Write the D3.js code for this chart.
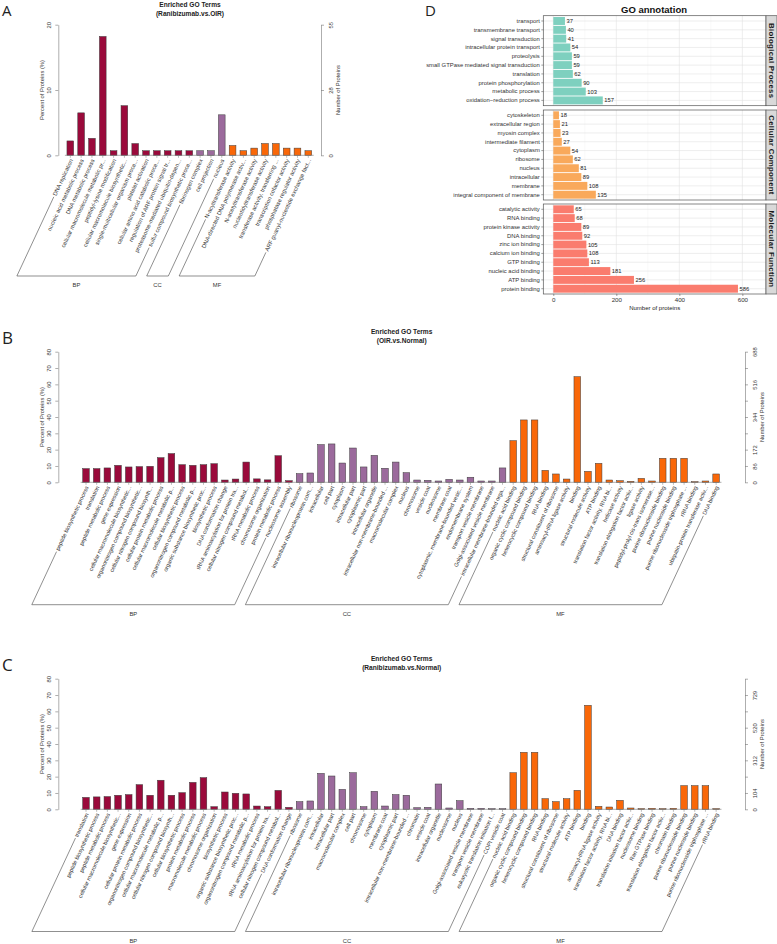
<!DOCTYPE html>
<html>
<head>
<meta charset="utf-8">
<script src="https://cdn.jsdelivr.net/npm/d3@7"></script>
<style>
body { margin: 0; background: #fff; }
svg text { font-family: "Liberation Sans", Arial, sans-serif; }
</style>
</head>
<body>
<svg id="fig" width="777" height="944"></svg>
<script>

// ---- Panel A : Ranibizumab.vs.OIR ----
var aBP = ["DNA replication", "nucleic acid metabolic process", "DNA metabolic process",
  "cellular macromolecule metabolic pr...", "peptidyl-lysine modification",
  "cellular macromolecule biosynthetic...", "single-multicellular organism proce...",
  "platelet activation", "cellular amino acid catabolic proce...",
  "regulation of ARF protein signal tr...", "proteasome-mediated ubiquitin-depen...",
  "sulfur compound biosynthetic proce..."];
var aCC = ["fibrinogen complex", "cell projection", "nucleus"];
var aMF = ["N-acyltransferase activity", "DNA-directed DNA polymerase activ...",
  "N-acetyltransferase activity", "nucleotidyltransferase activity",
  "transferase activity, transferring ...", "transcription cofactor activity",
  "phosphatase regulator activity", "ARF guanyl-nucleotide exchange fact..."];
var aBPVal = [2.2, 6.5, 2.6, 18.2, 0.7, 7.6, 1.8, 0.7, 0.7, 0.7, 0.7, 0.7];
var aCCVal = [0.7, 0.7, 6.2];
var aMFVal = [1.5, 0.7, 1.1, 1.8, 1.8, 1.1, 1.1, 0.7];
var aLeftTicks = [0, 10, 20];
var aRightTicks = ["0", "28", "55"];

// ---- Panel B : OIR.vs.Normal ----
var bBP = ["peptide biosynthetic process", "translation", "peptide metabolic process",
  "gene expression", "cellular macromolecule biosynthetic...",
  "organonitrogen compound biosynthetic...", "cellular nitrogen compound biosynth...",
  "cellular protein metabolic process", "cellular macromolecule metabolic p...",
  "cellular biosynthetic process", "organonitrogen compound metabolic p...",
  "organic substance biosynthetic proc...", "biosynthetic process",
  "DNA conformation change", "tRNA aminoacylation for protein tra...",
  "cellular nitrogen compound metabol...", "tRNA metabolic process",
  "chromosome organization", "protein metabolic process", "nucleosome assembly"];
var bCC = ["ribosome", "intracellular ribonucleoprotein com...", "intracellular", "cell part",
  "cytoplasm", "intracellular part", "cytoplasmic part", "intracellular organelle",
  "intracellular non-membrane-bounded ...", "macromolecular complex", "nucleus",
  "chromosome", "vesicle coat", "nucleosome", "membrane coat",
  "cytoplasmic, membrane-bounded vesic...", "endomembrane system",
  "transport vesicle membrane", "Golgi-associated vesicle membrane",
  "intracellular membrane-bounded orga..."];
var bMF = ["nucleic acid binding", "organic cyclic compound binding",
  "heterocyclic compound binding", "RNA binding", "structural constituent of ribosome",
  "aminoacyl-tRNA ligase activity", "binding", "structural molecule activity",
  "ATP binding", "translation factor activity, RNA bi...", "helicase activity",
  "translation elongation factor activ...", "ligase activity",
  "peptidyl-prolyl cis-trans isomerase...", "purine ribonucleoside binding",
  "purine nucleoside binding", "purine ribonucleoside triphosphate ...",
  "rRNA binding", "ubiquitin-protein transferase activ...", "DNA binding"];
var bBPVal = [8.4, 8.4, 8.8, 10.4, 9.4, 9.6, 9.8, 15.1, 17.6, 10.8,
  10.4, 10.8, 11.4, 1.4, 2.0, 12.4, 2.1, 1.5, 16.3, 1.0];
var bCCVal = [5.3, 5.7, 23.1, 23.5, 11.8, 21.0, 9.4, 16.5, 8.6, 12.4,
  5.9, 1.4, 1.2, 0.8, 1.8, 1.4, 3.1, 0.8, 0.8, 8.8];
var bMFVal = [25.5, 38.2, 38.2, 7.3, 5.1, 2.0, 64.7, 6.7, 11.6, 1.4,
  1.0, 0.6, 2.4, 0.8, 14.7, 14.7, 14.7, 0.4, 0.8, 5.1];
var bLeftTicks = [0, 10, 20, 30, 40, 50, 60, 70, 80];
var bRightTicks = ["0", "86", "172", "", "344", "", "516", "", "688"];

// ---- Panel C : Ranibizumab.vs.Normal ----
var cBP = ["translation", "peptide biosynthetic process", "peptide metabolic process",
  "cellular macromolecule biosynthetic...", "gene expression",
  "cellular protein metabolic process", "organonitrogen compound biosynthetic...",
  "cellular macromolecule metabolic p...", "cellular nitrogen compound biosynth...",
  "cellular biosynthetic process", "protein metabolic process",
  "macromolecule metabolic process", "chromosome organization", "biosynthetic process",
  "organic substance biosynthetic proc...", "organonitrogen compound metabolic p...",
  "tRNA metabolic process", "tRNA aminoacylation for protein tra...",
  "cellular nitrogen compound metabol...", "DNA conformation change"];
var cCC = ["ribosome", "intracellular ribonucleoprotein com...", "intracellular",
  "intracellular part", "macromolecular complex", "cell part", "chromosome", "cytoplasm",
  "membrane coat", "cytoplasmic part", "intracellular non-membrane-bounded ...",
  "chromatin", "vesicle coat", "intracellular organelle", "nucleosome", "nucleus",
  "Golgi-associated vesicle membrane", "transport vesicle membrane",
  "eukaryotic translation initiation f...", "COPI vesicle coat"];
var cMF = ["nucleic acid binding", "organic cyclic compound binding",
  "heterocyclic compound binding", "RNA binding", "structural constituent of ribosome",
  "structural molecule activity", "ATP binding", "binding",
  "aminoacyl-tRNA ligase activity", "translation factor activity, RNA bi...",
  "DNA binding", "translation initiation factor activ...", "nucleosome binding",
  "Ran GTPase binding", "translation elongation factor activ...", "chromatin binding",
  "purine ribonucleoside binding", "purine nucleoside binding",
  "purine ribonucleoside triphosphate ...", "rRNA binding"];
var cBPVal = [7.3, 7.6, 7.8, 8.6, 9.0, 15.1, 8.6, 17.8, 8.6, 10.2,
  16.5, 19.4, 1.6, 10.6, 9.8, 9.4, 2.0, 1.6, 11.6, 1.2];
var cCCVal = [4.7, 5.1, 22.0, 20.4, 12.2, 22.4, 1.6, 11.0, 2.0, 9.0,
  8.6, 1.0, 1.2, 15.5, 0.8, 5.3, 0.6, 0.6, 0.4, 0.4];
var cMFVal = [22.4, 34.9, 34.9, 6.5, 4.7, 6.5, 11.6, 63.7, 1.8, 1.4,
  5.5, 0.8, 0.4, 0.6, 0.4, 0.6, 14.5, 14.5, 14.5, 0.4];
var cLeftTicks = [0, 10, 20, 30, 40, 50, 60, 70, 80];
var cRightTicks = ["0", "104", "", "312", "", "520", "", "729", ""];

// ---- Panel D : GO annotation ----
var dBP = ["transport", "transmembrane transport", "signal transduction",
  "intracellular protein transport", "proteolysis",
  "small GTPase mediated signal transduction", "translation",
  "protein phosphorylation", "metabolic process", "oxidation\u2212reduction process"];
var dBPVal = [37, 40, 41, 54, 59, 59, 62, 90, 103, 157];
var dCC = ["cytoskeleton", "extracellular region", "myosin complex",
  "intermediate filament", "cytoplasm", "ribosome", "nucleus", "intracellular",
  "membrane", "integral component of membrane"];
var dCCVal = [18, 21, 23, 27, 54, 62, 81, 89, 108, 135];
var dMF = ["catalytic activity", "RNA binding", "protein kinase activity", "DNA binding",
  "zinc ion binding", "calcium ion binding", "GTP binding", "nucleic acid binding",
  "ATP binding", "protein binding"];
var dMFVal = [65, 68, 89, 92, 105, 108, 113, 181, 256, 586];
var dTicks = [0, 200, 400, 600];

var svg = d3.select("#fig");
var groupColors = {BP: "#9a0a3b", CC: "#9b6a9c", MF: "#f96708"};
var angle = 65, rad = angle * Math.PI / 180;

// panel letters
[["A", 2, 16, 15], ["B", 2, 344, 17], ["C", 2, 671, 17], ["D", 425, 16, 15]].forEach(function(l) {
  svg.append("text").attr("x", l[1]).attr("y", l[2])
    .style("font-family", "'Open Sans', 'DejaVu Sans', sans-serif")
    .attr("font-size", l[3]).attr("fill", "#222").text(l[0]);
});

function goPanel(o) {
  var g = svg.append("g");
  var labels = o.bp.concat(o.cc, o.mf);
  var values = o.bpVal.concat(o.ccVal, o.mfVal);
  var groups = [];
  var idx = 0;
  [["BP", o.bp.length], ["CC", o.cc.length], ["MF", o.mf.length]].forEach(function(p) {
    groups.push({name: p[0], start: idx, end: idx + p[1] - 1});
    idx += p[1];
  });
  var groupOf = function(i) { return groups.filter(function(gr) { return i >= gr.start && i <= gr.end; })[0].name; };

  var x = d3.scaleBand().domain(d3.range(labels.length))
    .range(o.xRange).paddingInner(0.38).paddingOuter(0.19);
  var y = d3.scaleLinear().domain([0, o.yMax]).range([o.y0, o.yTop]);
  var cx = function(i) { return x(i) + x.bandwidth() / 2; };

  // titles
  g.append("text").attr("x", o.titleX).attr("y", o.titleY).attr("text-anchor", "middle")
    .attr("font-size", 6.6).attr("font-weight", "bold").attr("fill", "#222").text("Enriched GO Terms");
  g.append("text").attr("x", o.titleX).attr("y", o.titleY + 9.3).attr("text-anchor", "middle")
    .attr("font-size", 6.6).attr("font-weight", "bold").attr("fill", "#222").text(o.subtitle);

  // bars
  g.selectAll("rect.bar").data(values).enter().append("rect")
    .attr("class", "bar")
    .attr("x", function(d, i) { return x(i); })
    .attr("width", x.bandwidth())
    .attr("y", function(d) { return y(d); })
    .attr("height", function(d) { return o.y0 - y(d); })
    .attr("fill", function(d, i) { return groupColors[groupOf(i)]; })
    .attr("stroke", "#3a3a3a").attr("stroke-width", 0.5);

  // x axis line with ticks at bars
  var xr = x.range();
  g.append("line").attr("x1", xr[0]).attr("x2", xr[1]).attr("y1", o.y0).attr("y2", o.y0)
    .attr("stroke", "#777").attr("stroke-width", 0.6);
  g.selectAll("line.xt").data(values).enter().append("line").attr("class", "xt")
    .attr("x1", function(d, i) { return cx(i); }).attr("x2", function(d, i) { return cx(i); })
    .attr("y1", o.y0).attr("y2", o.y0 + 2.5).attr("stroke", "#777").attr("stroke-width", 0.5);

  // left axis
  var left = g.append("g").attr("transform", "translate(" + o.leftX + ",0)")
    .call(d3.axisLeft(y).tickValues(o.leftTicks).tickSize(3).tickSizeOuter(0));
  left.select(".domain").attr("stroke", "#777").attr("stroke-width", 0.6);
  left.selectAll(".tick line").attr("stroke", "#777").attr("stroke-width", 0.6);
  left.selectAll(".tick text").attr("transform", "rotate(-90)").attr("x", 0).attr("y", -7.5)
    .attr("dy", 0).attr("text-anchor", "middle").attr("font-size", 5.8).attr("fill", "#333")
    .style("font-family", "'Liberation Sans', Arial, sans-serif");
  g.append("text").attr("transform", "translate(" + (o.leftX - 14.5) + "," + ((o.y0 + y(o.leftTicks[o.leftTicks.length - 1])) / 2) + ") rotate(-90)")
    .attr("text-anchor", "middle").attr("font-size", 5.8).attr("fill", "#333").text("Percent of Proteins (%)");

  // right axis (number of proteins)
  var rTickVals = o.rightTicks.map(function(t, i) { return i * (o.leftTicks[1] - o.leftTicks[0]); });
  var right = g.append("g").attr("transform", "translate(" + o.rightX + ",0)")
    .call(d3.axisRight(y).tickValues(rTickVals).tickSize(3).tickSizeOuter(0)
      .tickFormat(function(d, i) { return o.rightTicks[i]; }));
  right.select(".domain").attr("stroke", "#777").attr("stroke-width", 0.6);
  right.selectAll(".tick line").attr("stroke", "#777").attr("stroke-width", 0.6);
  right.selectAll(".tick text").attr("transform", "rotate(-90)").attr("x", 0).attr("y", 11.5)
    .attr("dy", 0).attr("text-anchor", "middle").attr("font-size", 5.8).attr("fill", "#333")
    .style("font-family", "'Liberation Sans', Arial, sans-serif");
  g.append("text").attr("transform", "translate(" + (o.rightX + 18.5) + "," + ((o.y0 + y(o.leftTicks[o.leftTicks.length - 1])) / 2) + ") rotate(-90)")
    .attr("text-anchor", "middle").attr("font-size", 5.8).attr("fill", "#333").text("Number of Proteins");

  // rotated category labels
  var ay = o.y0 + 4;
  var lab = g.selectAll("text.cat").data(labels).enter().append("text").attr("class", "cat")
    .attr("transform", function(d, i) { return "translate(" + (cx(i) + 1) + "," + ay + ") rotate(" + (-angle) + ")"; })
    .attr("text-anchor", "end").attr("dy", "0.35em")
    .attr("font-size", o.labelSize).attr("fill", "#333").text(function(d) { return d; });

  // group brackets
  var lens = [];
  lab.each(function() { lens.push(this.getComputedTextLength()); });
  var ux = -Math.cos(rad), uy = Math.sin(rad);
  var tBottom = (o.bracketY - ay) / uy;
  groups.forEach(function(gr) {
    var ends = [gr.start, gr.end].map(function(i) {
      var t0 = lens[i] + 1.5;
      return {
        top: [cx(i) + 1 + ux * t0, ay + uy * t0],
        bot: [cx(i) + 1 + ux * tBottom, o.bracketY]
      };
    });
    var path = d3.path();
    path.moveTo(ends[0].top[0], ends[0].top[1]);
    path.lineTo(ends[0].bot[0], ends[0].bot[1]);
    path.lineTo(ends[1].bot[0], ends[1].bot[1]);
    path.lineTo(ends[1].top[0], ends[1].top[1]);
    g.append("path").attr("d", path.toString()).attr("fill", "none")
      .attr("stroke", "#444").attr("stroke-width", 0.6);
    g.append("text").attr("x", (ends[0].bot[0] + ends[1].bot[0]) / 2).attr("y", o.bracketY + 11)
      .attr("text-anchor", "middle").attr("font-size", 5.8).attr("fill", "#333").text(gr.name);
  });
}

goPanel({bp: aBP, cc: aCC, mf: aMF, bpVal: aBPVal, ccVal: aCCVal, mfVal: aMFVal,
  leftTicks: aLeftTicks, rightTicks: aRightTicks, subtitle: "(Ranibizumab.vs.OIR)",
  xRange: [64.9, 313.7], yMax: 20, y0: 155.3, yTop: 24.7, leftX: 58.3, rightX: 321,
  titleX: 190, titleY: 6.5, bracketY: 276, labelSize: 5.8});

goPanel({bp: bBP, cc: bCC, mf: bMF, bpVal: bBPVal, ccVal: bCCVal, mfVal: bMFVal,
  leftTicks: bLeftTicks, rightTicks: bRightTicks, subtitle: "(OIR.vs.Normal)",
  xRange: [80.66, 721.46], yMax: 80, y0: 482.3, yTop: 351.7, leftX: 58.3, rightX: 745,
  titleX: 401.7, titleY: 334, bracketY: 604.7, labelSize: 5.6});

goPanel({bp: cBP, cc: cCC, mf: cMF, bpVal: cBPVal, ccVal: cCCVal, mfVal: cMFVal,
  leftTicks: cLeftTicks, rightTicks: cRightTicks, subtitle: "(Ranibizumab.vs.Normal)",
  xRange: [80.66, 721.46], yMax: 80, y0: 809.3, yTop: 678.7, leftX: 58.3, rightX: 745,
  titleX: 401.7, titleY: 661, bracketY: 931.5, labelSize: 5.6});

// ---- Panel D ----
var gd = svg.append("g");
var xD = d3.scaleLinear().domain([-31.7, 675]).range([543.3, 766]);
var dPanels = [
  {name: "Biological Process", labels: dBP, values: dBPVal, color: "#7ed0bf", top: 15.7},
  {name: "Cellular Component", labels: dCC, values: dCCVal, color: "#f9a95b", top: 110},
  {name: "Molecular Function", labels: dMF, values: dMFVal, color: "#fa7c6e", top: 204}
];
var dH = 90;

gd.append("text").attr("x", 654).attr("y", 13).attr("text-anchor", "middle")
  .attr("font-size", 9.5).attr("font-weight", "bold").attr("fill", "#111").text("GO annotation");

dPanels.forEach(function(p) {
  var yD = d3.scaleBand().domain(p.labels).range([p.top, p.top + dH])
    .paddingInner(0.1).paddingOuter(0.15);
  var x0 = xD.range()[0], x1 = xD.range()[1];

  // grid
  gd.append("g").selectAll("line").data([100, 300, 500]).enter().append("line")
    .attr("x1", xD).attr("x2", xD).attr("y1", p.top).attr("y2", p.top + dH)
    .attr("stroke", "#f2f2f2").attr("stroke-width", 0.5);
  gd.append("g").selectAll("line").data(dTicks).enter().append("line")
    .attr("x1", xD).attr("x2", xD).attr("y1", p.top).attr("y2", p.top + dH)
    .attr("stroke", "#e3e3e3").attr("stroke-width", 0.6);
  gd.append("g").selectAll("line").data(p.labels).enter().append("line")
    .attr("x1", x0).attr("x2", x1)
    .attr("y1", function(d) { return yD(d) + yD.bandwidth() / 2; })
    .attr("y2", function(d) { return yD(d) + yD.bandwidth() / 2; })
    .attr("stroke", "#e3e3e3").attr("stroke-width", 0.6);

  // bars
  gd.append("g").selectAll("rect").data(p.values).enter().append("rect")
    .attr("x", xD(0))
    .attr("y", function(d, i) { return yD(p.labels[i]); })
    .attr("width", function(d) { return xD(d) - xD(0); })
    .attr("height", yD.bandwidth())
    .attr("fill", p.color);

  // value labels
  gd.append("g").selectAll("text").data(p.values).enter().append("text")
    .attr("x", function(d) { return xD(d) + 1.5; })
    .attr("y", function(d, i) { return yD(p.labels[i]) + yD.bandwidth() / 2; })
    .attr("dy", "0.35em").attr("font-size", 5.8).attr("fill", "#222")
    .text(function(d) { return d; });

  // panel border
  gd.append("rect").attr("x", x0).attr("y", p.top).attr("width", x1 - x0).attr("height", dH)
    .attr("fill", "none").attr("stroke", "#555").attr("stroke-width", 0.7);

  // y axis
  var ya = gd.append("g").attr("transform", "translate(" + x0 + ",0)")
    .call(d3.axisLeft(yD).tickSize(2).tickPadding(1.5));
  ya.select(".domain").remove();
  ya.selectAll(".tick line").attr("stroke", "#444").attr("stroke-width", 0.5);
  ya.selectAll(".tick text").attr("font-size", 5.9).attr("fill", "#333")
    .style("font-family", "'Liberation Sans', Arial, sans-serif");

  // strip
  gd.append("rect").attr("x", x1).attr("y", p.top).attr("width", 11).attr("height", dH)
    .attr("fill", "#d9d9d9").attr("stroke", "#555").attr("stroke-width", 0.7);
  gd.append("text").attr("transform", "translate(" + (x1 + 2.8) + "," + (p.top + dH / 2) + ") rotate(90)")
    .attr("text-anchor", "middle").attr("font-size", 7.8).attr("font-weight", "bold")
    .attr("letter-spacing", 0.3).attr("fill", "#1a1a1a").text(p.name);
});

var lastBottom = dPanels[2].top + dH;
var xa = gd.append("g").attr("transform", "translate(0," + lastBottom + ")")
  .call(d3.axisBottom(xD).tickValues(dTicks).tickSize(2).tickPadding(1.5));
xa.select(".domain").remove();
xa.selectAll(".tick line").attr("stroke", "#444").attr("stroke-width", 0.5);
xa.selectAll(".tick text").attr("font-size", 6.2).attr("fill", "#333")
  .style("font-family", "'Liberation Sans', Arial, sans-serif");
gd.append("text").attr("x", (xD.range()[0] + xD.range()[1]) / 2).attr("y", lastBottom + 16)
  .attr("text-anchor", "middle").attr("font-size", 6).attr("fill", "#222").text("Number of proteins");

</script>
</body>
</html>
